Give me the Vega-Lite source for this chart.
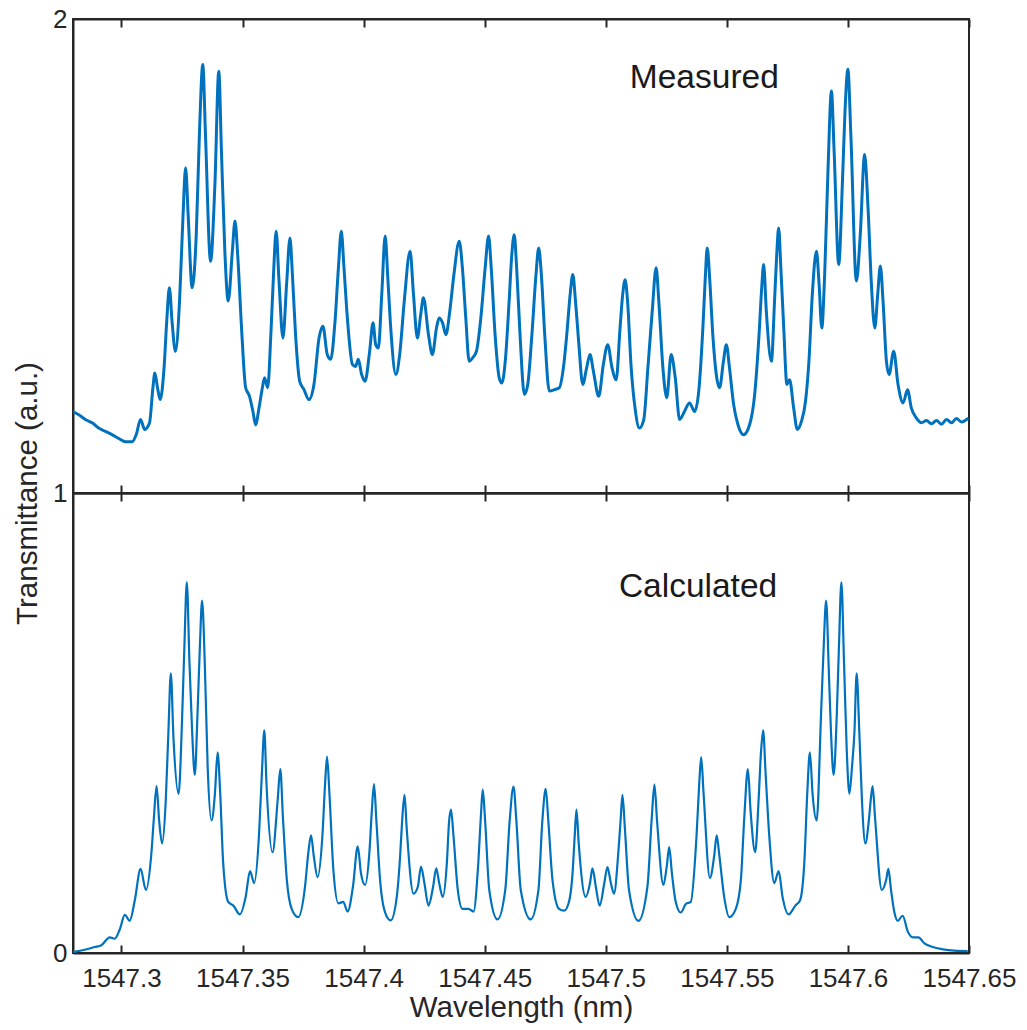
{
  "$schema": "https://vega.github.io/schema/vega-lite/v6.json",
  "background": "white",
  "padding": {"left": 11, "top": 5, "right": 5, "bottom": 5},
  "bounds": "flush",
  "spacing": 0,
  "config": {
    "font": "Liberation Sans",
    "view": {"stroke": "#262626", "strokeWidth": 2},
    "axis": {"grid": false, "domainColor": "#262626", "domainWidth": 2, "tickColor": "#262626", "tickWidth": 2, "labelColor": "#262626", "titleColor": "#262626", "labelFont": "Liberation Sans", "titleFont": "Liberation Sans", "labelFontSize": 26, "titleFontSize": 29.5, "titleFontWeight": "normal"}
  },
  "datasets": {
    "measured": [
      {"wl":1547.2800,"t":1.172},{"wl":1547.2824,"t":1.165},{"wl":1547.2851,"t":1.155},{"wl":1547.2879,"t":1.148},{"wl":1547.2906,"t":1.137},{"wl":1547.2934,"t":1.130},{"wl":1547.2961,"t":1.123},{"wl":1547.2989,"t":1.115},{"wl":1547.3017,"t":1.108},{"wl":1547.3044,"t":1.108},{"wl":1547.3061,"t":1.123},{"wl":1547.3079,"t":1.155},{"wl":1547.3096,"t":1.134},{"wl":1547.3116,"t":1.148},{"wl":1547.3130,"t":1.222},{"wl":1547.3138,"t":1.253},{"wl":1547.3149,"t":1.222},{"wl":1547.3160,"t":1.197},{"wl":1547.3176,"t":1.264},{"wl":1547.3187,"t":1.362},{"wl":1547.3198,"t":1.433},{"wl":1547.3209,"t":1.362},{"wl":1547.3223,"t":1.299},{"wl":1547.3240,"t":1.405},{"wl":1547.3254,"t":1.581},{"wl":1547.3265,"t":1.686},{"wl":1547.3276,"t":1.581},{"wl":1547.3292,"t":1.433},{"wl":1547.3309,"t":1.545},{"wl":1547.3322,"t":1.757},{"wl":1547.3336,"t":1.904},{"wl":1547.3347,"t":1.757},{"wl":1547.3368,"t":1.489},{"wl":1547.3386,"t":1.651},{"wl":1547.3402,"t":1.890},{"wl":1547.3413,"t":1.721},{"wl":1547.3427,"t":1.510},{"wl":1547.3441,"t":1.405},{"wl":1547.3458,"t":1.510},{"wl":1547.3469,"t":1.574},{"wl":1547.3480,"t":1.503},{"wl":1547.3496,"t":1.348},{"wl":1547.3513,"t":1.222},{"wl":1547.3529,"t":1.204},{"wl":1547.3543,"t":1.172},{"wl":1547.3554,"t":1.144},{"wl":1547.3568,"t":1.179},{"wl":1547.3582,"t":1.222},{"wl":1547.3591,"t":1.243},{"wl":1547.3604,"t":1.222},{"wl":1547.3617,"t":1.334},{"wl":1547.3628,"t":1.461},{"wl":1547.3639,"t":1.552},{"wl":1547.3650,"t":1.454},{"wl":1547.3667,"t":1.327},{"wl":1547.3682,"t":1.440},{"wl":1547.3696,"t":1.538},{"wl":1547.3706,"t":1.461},{"wl":1547.3719,"t":1.334},{"wl":1547.3736,"t":1.236},{"wl":1547.3754,"t":1.218},{"wl":1547.3774,"t":1.197},{"wl":1547.3795,"t":1.229},{"wl":1547.3816,"t":1.327},{"wl":1547.3832,"t":1.352},{"wl":1547.3850,"t":1.292},{"wl":1547.3864,"t":1.282},{"wl":1547.3882,"t":1.362},{"wl":1547.3896,"t":1.475},{"wl":1547.3908,"t":1.552},{"wl":1547.3919,"t":1.475},{"wl":1547.3933,"t":1.369},{"wl":1547.3954,"t":1.271},{"wl":1547.3967,"t":1.267},{"wl":1547.3978,"t":1.282},{"wl":1547.3992,"t":1.250},{"wl":1547.4006,"t":1.236},{"wl":1547.4025,"t":1.299},{"wl":1547.4039,"t":1.359},{"wl":1547.4050,"t":1.313},{"wl":1547.4061,"t":1.306},{"wl":1547.4075,"t":1.419},{"wl":1547.4089,"t":1.542},{"wl":1547.4100,"t":1.454},{"wl":1547.4113,"t":1.341},{"wl":1547.4133,"t":1.250},{"wl":1547.4149,"t":1.292},{"wl":1547.4168,"t":1.405},{"wl":1547.4192,"t":1.510},{"wl":1547.4206,"t":1.419},{"wl":1547.4222,"t":1.327},{"wl":1547.4236,"t":1.377},{"wl":1547.4247,"t":1.412},{"wl":1547.4268,"t":1.334},{"wl":1547.4284,"t":1.292},{"wl":1547.4301,"t":1.348},{"wl":1547.4312,"t":1.369},{"wl":1547.4326,"t":1.359},{"wl":1547.4340,"t":1.334},{"wl":1547.4356,"t":1.384},{"wl":1547.4373,"t":1.461},{"wl":1547.4395,"t":1.531},{"wl":1547.4408,"t":1.475},{"wl":1547.4422,"t":1.369},{"wl":1547.4436,"t":1.278},{"wl":1547.4450,"t":1.285},{"wl":1547.4466,"t":1.299},{"wl":1547.4484,"t":1.369},{"wl":1547.4502,"t":1.475},{"wl":1547.4516,"t":1.542},{"wl":1547.4527,"t":1.475},{"wl":1547.4543,"t":1.334},{"wl":1547.4560,"t":1.243},{"wl":1547.4571,"t":1.232},{"wl":1547.4585,"t":1.278},{"wl":1547.4601,"t":1.405},{"wl":1547.4612,"t":1.503},{"wl":1547.4622,"t":1.545},
      {"wl":1547.4632,"t":1.475},{"wl":1547.4646,"t":1.334},{"wl":1547.4664,"t":1.208},{"wl":1547.4678,"t":1.229},{"wl":1547.4695,"t":1.334},{"wl":1547.4712,"t":1.461},{"wl":1547.4723,"t":1.517},{"wl":1547.4734,"t":1.461},{"wl":1547.4748,"t":1.334},{"wl":1547.4767,"t":1.215},{"wl":1547.4788,"t":1.218},{"wl":1547.4808,"t":1.222},{"wl":1547.4825,"t":1.264},{"wl":1547.4839,"t":1.334},{"wl":1547.4853,"t":1.419},{"wl":1547.4864,"t":1.461},{"wl":1547.4875,"t":1.405},{"wl":1547.4888,"t":1.320},{"wl":1547.4905,"t":1.229},{"wl":1547.4921,"t":1.264},{"wl":1547.4935,"t":1.292},{"wl":1547.4949,"t":1.257},{"wl":1547.4971,"t":1.204},{"wl":1547.4990,"t":1.271},{"wl":1547.5008,"t":1.313},{"wl":1547.5026,"t":1.264},{"wl":1547.5043,"t":1.239},{"wl":1547.5059,"t":1.348},{"wl":1547.5070,"t":1.419},{"wl":1547.5080,"t":1.450},{"wl":1547.5090,"t":1.405},{"wl":1547.5105,"t":1.264},{"wl":1547.5121,"t":1.179},{"wl":1547.5139,"t":1.137},{"wl":1547.5157,"t":1.155},{"wl":1547.5174,"t":1.264},{"wl":1547.5192,"t":1.384},{"wl":1547.5208,"t":1.475},{"wl":1547.5219,"t":1.405},{"wl":1547.5236,"t":1.264},{"wl":1547.5252,"t":1.201},{"wl":1547.5270,"t":1.292},{"wl":1547.5287,"t":1.243},{"wl":1547.5305,"t":1.155},{"wl":1547.5325,"t":1.172},{"wl":1547.5346,"t":1.190},{"wl":1547.5367,"t":1.172},{"wl":1547.5384,"t":1.215},{"wl":1547.5401,"t":1.348},{"wl":1547.5411,"t":1.454},{"wl":1547.5419,"t":1.517},{"wl":1547.5429,"t":1.454},{"wl":1547.5442,"t":1.334},{"wl":1547.5470,"t":1.222},{"wl":1547.5486,"t":1.278},{"wl":1547.5498,"t":1.313},{"wl":1547.5511,"t":1.264},{"wl":1547.5528,"t":1.187},{"wl":1547.5546,"t":1.144},{"wl":1547.5569,"t":1.123},{"wl":1547.5594,"t":1.144},{"wl":1547.5615,"t":1.208},{"wl":1547.5633,"t":1.334},{"wl":1547.5644,"t":1.433},{"wl":1547.5652,"t":1.482},{"wl":1547.5663,"t":1.384},{"wl":1547.5684,"t":1.278},{"wl":1547.5697,"t":1.405},{"wl":1547.5706,"t":1.503},{"wl":1547.5714,"t":1.559},{"wl":1547.5723,"t":1.475},{"wl":1547.5735,"t":1.348},{"wl":1547.5748,"t":1.229},{"wl":1547.5759,"t":1.239},{"wl":1547.5776,"t":1.179},{"wl":1547.5791,"t":1.134},{"wl":1547.5808,"t":1.151},{"wl":1547.5825,"t":1.194},{"wl":1547.5839,"t":1.278},{"wl":1547.5853,"t":1.419},{"wl":1547.5870,"t":1.510},{"wl":1547.5881,"t":1.440},{"wl":1547.5892,"t":1.348},{"wl":1547.5904,"t":1.461},{"wl":1547.5918,"t":1.686},{"wl":1547.5932,"t":1.848},{"wl":1547.5943,"t":1.721},{"wl":1547.5962,"t":1.482},{"wl":1547.5977,"t":1.651},{"wl":1547.5988,"t":1.806},{"wl":1547.6000,"t":1.894},{"wl":1547.6012,"t":1.757},{"wl":1547.6035,"t":1.447},{"wl":1547.6051,"t":1.545},{"wl":1547.6069,"t":1.714},{"wl":1547.6083,"t":1.602},{"wl":1547.6097,"t":1.440},{"wl":1547.6111,"t":1.348},{"wl":1547.6123,"t":1.419},{"wl":1547.6134,"t":1.479},{"wl":1547.6145,"t":1.405},{"wl":1547.6159,"t":1.278},{"wl":1547.6170,"t":1.250},{"wl":1547.6189,"t":1.299},{"wl":1547.6207,"t":1.229},{"wl":1547.6228,"t":1.190},{"wl":1547.6246,"t":1.218},{"wl":1547.6262,"t":1.179},{"wl":1547.6283,"t":1.158},{"wl":1547.6304,"t":1.148},{"wl":1547.6324,"t":1.153},{"wl":1547.6345,"t":1.146},{"wl":1547.6366,"t":1.153},{"wl":1547.6386,"t":1.145},{"wl":1547.6407,"t":1.155},{"wl":1547.6428,"t":1.148},{"wl":1547.6448,"t":1.157},{"wl":1547.6469,"t":1.150},{"wl":1547.6497,"t":1.158}
    ],
    "calculated": [
      {"wl":1547.2800,"t":0.002},{"wl":1547.2848,"t":0.007},{"wl":1547.2890,"t":0.013},{"wl":1547.2917,"t":0.017},{"wl":1547.2952,"t":0.034},{"wl":1547.2972,"t":0.031},{"wl":1547.2993,"t":0.051},{"wl":1547.3014,"t":0.083},{"wl":1547.3034,"t":0.070},{"wl":1547.3055,"t":0.114},{"wl":1547.3079,"t":0.183},{"wl":1547.3101,"t":0.137},{"wl":1547.3124,"t":0.219},{"wl":1547.3134,"t":0.294},{"wl":1547.3145,"t":0.363},{"wl":1547.3156,"t":0.286},{"wl":1547.3168,"t":0.238},{"wl":1547.3183,"t":0.331},{"wl":1547.3194,"t":0.481},{"wl":1547.3204,"t":0.608},{"wl":1547.3215,"t":0.466},{"wl":1547.3236,"t":0.346},{"wl":1547.3251,"t":0.518},{"wl":1547.3260,"t":0.667},{"wl":1547.3270,"t":0.806},{"wl":1547.3281,"t":0.630},{"wl":1547.3292,"t":0.481},{"wl":1547.3303,"t":0.387},{"wl":1547.3314,"t":0.518},{"wl":1547.3324,"t":0.667},{"wl":1547.3333,"t":0.766},{"wl":1547.3345,"t":0.615},{"wl":1547.3356,"t":0.406},{"wl":1547.3372,"t":0.288},{"wl":1547.3386,"t":0.346},{"wl":1547.3397,"t":0.436},{"wl":1547.3408,"t":0.346},{"wl":1547.3420,"t":0.197},{"wl":1547.3441,"t":0.111},{"wl":1547.3462,"t":0.103},{"wl":1547.3489,"t":0.084},{"wl":1547.3513,"t":0.122},{"wl":1547.3531,"t":0.178},{"wl":1547.3548,"t":0.152},{"wl":1547.3568,"t":0.256},{"wl":1547.3580,"t":0.391},{"wl":1547.3590,"t":0.484},{"wl":1547.3599,"t":0.368},{"wl":1547.3624,"t":0.219},{"wl":1547.3645,"t":0.331},{"wl":1547.3656,"t":0.400},{"wl":1547.3667,"t":0.294},{"wl":1547.3683,"t":0.159},{"wl":1547.3703,"t":0.096},{"wl":1547.3730,"t":0.078},{"wl":1547.3758,"t":0.144},{"wl":1547.3772,"t":0.219},{"wl":1547.3783,"t":0.256},{"wl":1547.3794,"t":0.212},{"wl":1547.3810,"t":0.165},{"wl":1547.3830,"t":0.256},{"wl":1547.3841,"t":0.368},{"wl":1547.3849,"t":0.427},{"wl":1547.3859,"t":0.346},{"wl":1547.3875,"t":0.182},{"wl":1547.3896,"t":0.108},{"wl":1547.3916,"t":0.111},{"wl":1547.3934,"t":0.090},{"wl":1547.3956,"t":0.144},{"wl":1547.3976,"t":0.232},{"wl":1547.3989,"t":0.174},{"wl":1547.4006,"t":0.148},{"wl":1547.4024,"t":0.219},{"wl":1547.4034,"t":0.309},{"wl":1547.4043,"t":0.367},{"wl":1547.4053,"t":0.286},{"wl":1547.4068,"t":0.159},{"wl":1547.4089,"t":0.088},{"wl":1547.4112,"t":0.071},{"wl":1547.4137,"t":0.122},{"wl":1547.4151,"t":0.212},{"wl":1547.4159,"t":0.286},{"wl":1547.4169,"t":0.344},{"wl":1547.4178,"t":0.271},{"wl":1547.4206,"t":0.129},{"wl":1547.4224,"t":0.144},{"wl":1547.4237,"t":0.188},{"wl":1547.4251,"t":0.152},{"wl":1547.4268,"t":0.103},{"wl":1547.4287,"t":0.144},{"wl":1547.4300,"t":0.184},{"wl":1547.4312,"t":0.152},{"wl":1547.4327,"t":0.122},{"wl":1547.4344,"t":0.197},{"wl":1547.4353,"t":0.286},{"wl":1547.4361,"t":0.312},{"wl":1547.4371,"t":0.256},{"wl":1547.4389,"t":0.137},{"wl":1547.4408,"t":0.096},{"wl":1547.4433,"t":0.096},{"wl":1547.4454,"t":0.090},{"wl":1547.4472,"t":0.182},{"wl":1547.4484,"t":0.294},{"wl":1547.4492,"t":0.355},{"wl":1547.4502,"t":0.286},{"wl":1547.4519,"t":0.137},{"wl":1547.4553,"t":0.073},{"wl":1547.4585,"t":0.137},{"wl":1547.4603,"t":0.286},{"wl":1547.4619,"t":0.362},{"wl":1547.4631,"t":0.286},{"wl":1547.4649,"t":0.137},{"wl":1547.4690,"t":0.073},{"wl":1547.4722,"t":0.137},{"wl":1547.4738,"t":0.286},{"wl":1547.4752,"t":0.357},{"wl":1547.4763,"t":0.286},{"wl":1547.4780,"t":0.159},{"wl":1547.4807,"t":0.096},{"wl":1547.4828,"t":0.092},{"wl":1547.4848,"t":0.111},{"wl":1547.4862,"t":0.167},{"wl":1547.4872,"t":0.256},{"wl":1547.4879,"t":0.312},{"wl":1547.4888,"t":0.241},{"wl":1547.4917,"t":0.122},{"wl":1547.4935,"t":0.152},{"wl":1547.4945,"t":0.184},{"wl":1547.4959,"t":0.144},{"wl":1547.4975,"t":0.103},{"wl":1547.4994,"t":0.152},{"wl":1547.5007,"t":0.187},{"wl":1547.5021,"t":0.152},{"wl":1547.5034,"t":0.129},{"wl":1547.5051,"t":0.212},{"wl":1547.5061,"t":0.286},{"wl":1547.5069,"t":0.344},{"wl":1547.5079,"t":0.271},{"wl":1547.5096,"t":0.137},{"wl":1547.5135,"t":0.070},{"wl":1547.5172,"t":0.144},{"wl":1547.5190,"t":0.294},{"wl":1547.5201,"t":0.366},{"wl":1547.5212,"t":0.286},{"wl":1547.5238,"t":0.148},{"wl":1547.5252,"t":0.189},{"wl":1547.5262,"t":0.230},{"wl":1547.5273,"t":0.174},{"wl":1547.5289,"t":0.111},{"wl":1547.5310,"t":0.088},{"wl":1547.5331,"t":0.107},{"wl":1547.5351,"t":0.111},{"wl":1547.5375,"t":0.256},{"wl":1547.5386,"t":0.368},{"wl":1547.5394,"t":0.426},{"wl":1547.5404,"t":0.346},{"wl":1547.5430,"t":0.163},{"wl":1547.5448,"t":0.212},{"wl":1547.5458,"t":0.256},{"wl":1547.5469,"t":0.212},{"wl":1547.5489,"t":0.122},{"wl":1547.5510,"t":0.078},{"wl":1547.5537,"t":0.096},{"wl":1547.5558,"t":0.159},{"wl":1547.5572,"t":0.294},{"wl":1547.5587,"t":0.400},{"wl":1547.5598,"t":0.309},{"wl":1547.5617,"t":0.219},{"wl":1547.5631,"t":0.331},{"wl":1547.5641,"t":0.436},{"wl":1547.5650,"t":0.484},{"wl":1547.5660,"t":0.391},{"wl":1547.5675,"t":0.256},{"wl":1547.5696,"t":0.152},{"wl":1547.5714,"t":0.178},{"wl":1547.5730,"t":0.122},{"wl":1547.5755,"t":0.084},{"wl":1547.5783,"t":0.103},{"wl":1547.5802,"t":0.114},{"wl":1547.5820,"t":0.197},{"wl":1547.5832,"t":0.346},{"wl":1547.5843,"t":0.436},{"wl":1547.5854,"t":0.346},{"wl":1547.5871,"t":0.288},{"wl":1547.5889,"t":0.518},{"wl":1547.5900,"t":0.667},{"wl":1547.5910,"t":0.766},{"wl":1547.5921,"t":0.615},{"wl":1547.5930,"t":0.481},{"wl":1547.5941,"t":0.387},{"wl":1547.5954,"t":0.518},{"wl":1547.5963,"t":0.667},{"wl":1547.5973,"t":0.806},{"wl":1547.5984,"t":0.630},{"wl":1547.5995,"t":0.443},{"wl":1547.6006,"t":0.346},{"wl":1547.6017,"t":0.406},{"wl":1547.6027,"t":0.481},{"wl":1547.6036,"t":0.608},{"wl":1547.6047,"t":0.481},{"wl":1547.6058,"t":0.331},{"wl":1547.6072,"t":0.238},{"wl":1547.6086,"t":0.286},{"wl":1547.6094,"t":0.331},{"wl":1547.6102,"t":0.363},{"wl":1547.6112,"t":0.294},{"wl":1547.6140,"t":0.137},{"wl":1547.6158,"t":0.159},{"wl":1547.6167,"t":0.183},{"wl":1547.6178,"t":0.137},{"wl":1547.6192,"t":0.088},{"wl":1547.6206,"t":0.070},{"wl":1547.6226,"t":0.081},{"wl":1547.6247,"t":0.047},{"wl":1547.6268,"t":0.034},{"wl":1547.6291,"t":0.034},{"wl":1547.6316,"t":0.021},{"wl":1547.6350,"t":0.013},{"wl":1547.6392,"t":0.008},{"wl":1547.6440,"t":0.005},{"wl":1547.6495,"t":0.004}
    ]
  },
  "vconcat": [
    {
      "width": 896,
      "height": 474,
      "layer": [
        {
          "data": {"name": "measured"},
          "mark": {"type": "line", "color": "#0072BD", "strokeWidth": 3, "interpolate": "monotone", "clip": true},
          "encoding": {
            "x": {"field": "wl", "type": "quantitative", "scale": {"domain": [1547.28, 1547.65], "nice": false, "zero": false},
                  "axis": {"orient": "bottom", "values": [1547.3, 1547.35, 1547.4, 1547.45, 1547.5, 1547.55, 1547.6, 1547.65], "labels": false, "tickSize": -8, "title": null}},
            "y": {"field": "t", "type": "quantitative", "scale": {"domain": [1, 2], "nice": false, "zero": false},
                  "axis": {"values": [1, 2], "format": "d", "ticks": false, "labelPadding": 6, "title": "Transmittance (a.u.)", "titleY": 474, "titlePadding": 10}}
          }
        },
        {
          "data": {"values": [{"wl": 1547.5407, "t": 1.8755, "label": "Measured"}]},
          "mark": {"type": "text", "fontSize": 33.5, "color": "#1a1a1a", "align": "center", "baseline": "middle", "font": "Liberation Sans"},
          "encoding": {
            "x": {"field": "wl", "type": "quantitative", "scale": {"domain": [1547.28, 1547.65], "nice": false, "zero": false},
                  "axis": {"orient": "top", "values": [1547.3, 1547.35, 1547.4, 1547.45, 1547.5, 1547.55, 1547.6, 1547.65], "labels": false, "tickSize": -8, "title": null}},
            "y": {"field": "t", "type": "quantitative"},
            "text": {"field": "label"}
          }
        }
      ],
      "resolve": {"axis": {"x": "independent"}}
    },
    {
      "width": 896,
      "height": 460,
      "layer": [
        {
          "data": {"name": "calculated"},
          "mark": {"type": "line", "color": "#0072BD", "strokeWidth": 2.2, "interpolate": "monotone", "clip": true},
          "encoding": {
            "x": {"field": "wl", "type": "quantitative", "scale": {"domain": [1547.28, 1547.65], "nice": false, "zero": false},
                  "axis": {"orient": "bottom", "values": [1547.3, 1547.35, 1547.4, 1547.45, 1547.5, 1547.55, 1547.6, 1547.65], "format": ".2~f", "tickSize": -8, "labelPadding": 20, "labelFlush": false, "labelOverlap": false, "title": "Wavelength (nm)", "titlePadding": 2}},
            "y": {"field": "t", "type": "quantitative", "scale": {"domain": [0, 1], "nice": false, "zero": false},
                  "axis": {"values": [0], "format": "d", "ticks": false, "labelPadding": 6, "title": null}}
          }
        },
        {
          "data": {"values": [{"wl": 1547.5381, "t": 0.795, "label": "Calculated"}]},
          "mark": {"type": "text", "fontSize": 33.5, "color": "#1a1a1a", "align": "center", "baseline": "middle", "font": "Liberation Sans"},
          "encoding": {
            "x": {"field": "wl", "type": "quantitative", "scale": {"domain": [1547.28, 1547.65], "nice": false, "zero": false},
                  "axis": {"orient": "top", "values": [1547.3, 1547.35, 1547.4, 1547.45, 1547.5, 1547.55, 1547.6, 1547.65], "labels": false, "tickSize": -8, "title": null}},
            "y": {"field": "t", "type": "quantitative"},
            "text": {"field": "label"}
          }
        }
      ],
      "resolve": {"axis": {"x": "independent"}}
    }
  ]
}
